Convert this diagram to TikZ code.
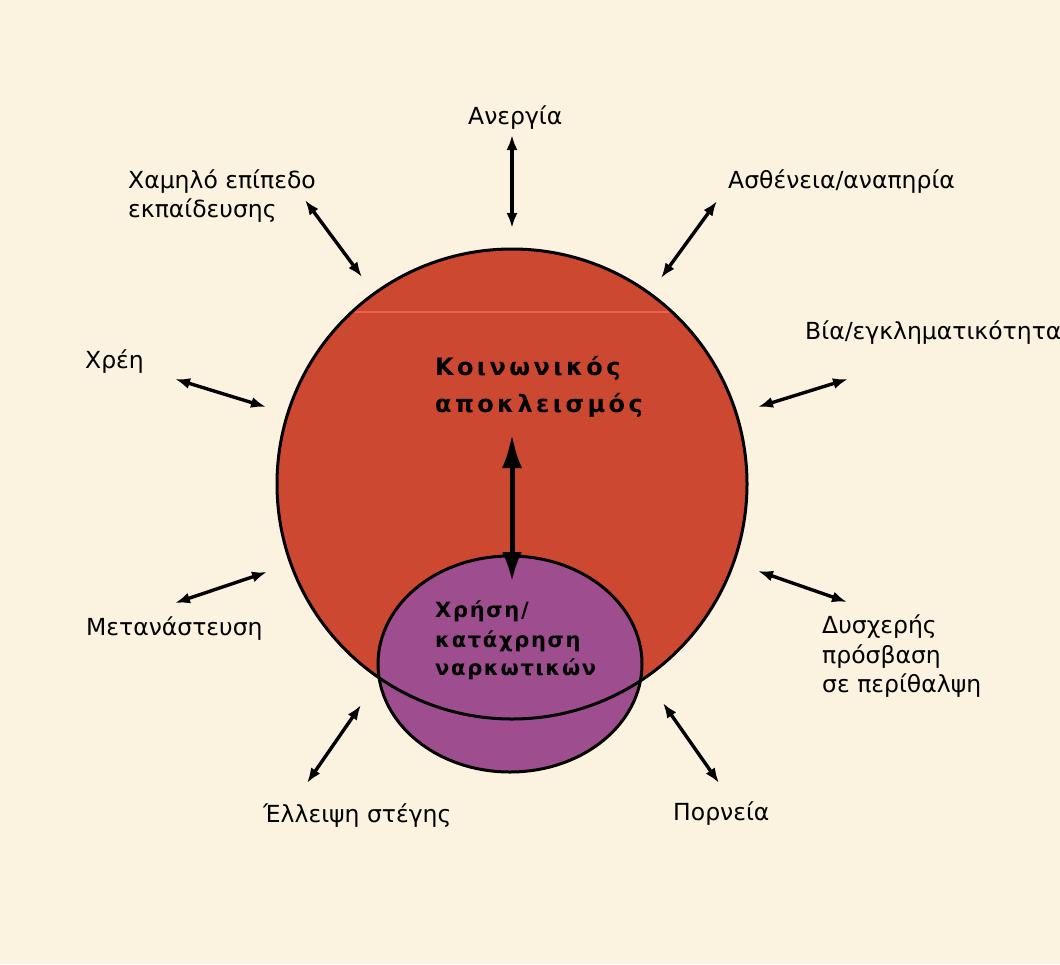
\documentclass[tikz,border=0pt]{standalone}
\usepackage{fontspec}
\setmainfont{DejaVu Sans}
\newfontfamily\titlefont[LetterSpace=14]{DejaVu Sans}
\newfontfamily\innerfont[LetterSpace=8]{DejaVu Sans}
\usetikzlibrary{arrows.meta}
\definecolor{bg}{RGB}{251,243,224}
\definecolor{redc}{RGB}{204,72,48}
\definecolor{redl}{RGB}{232,100,80}
\definecolor{purp}{RGB}{158,78,142}
\begin{document}
\begin{tikzpicture}[x=1pt,y=-1pt,
  lab/.style={anchor=base west, inner sep=0pt, font=\fontsize{23.5}{29}\selectfont},
  ttl/.style={anchor=base west, inner sep=0pt, font=\titlefont\bfseries\fontsize{24}{29}\selectfont},
  inn/.style={anchor=base west, inner sep=0pt, font=\innerfont\bfseries\fontsize{21}{29}\selectfont},
  arr/.style={line width=3.4pt, {Latex[length=15pt,width=11pt]}-{Latex[length=15pt,width=11pt]}},
  bigarr/.style={line width=5pt, {Latex[length=34pt,width=20pt]}-{Latex[length=30pt,width=20pt]}},
  outline/.style={line width=3pt, draw=black}
]
\useasboundingbox (0,0) rectangle (1060,964);
\fill[bg] (0,0) rectangle (1060,964);

% circles
\coordinate (rc) at (512,484);
\coordinate (pc) at (510,664);
\fill[redc] (rc) circle[radius=235];
\begin{scope}
  \clip (rc) circle[radius=235];
  \draw[redl, line width=1.5pt] (270,312) -- (760,312);
\end{scope}
\fill[purp] (pc) ellipse[x radius=132, y radius=108];
\draw[outline] (rc) circle[radius=235];
\draw[outline] (pc) ellipse[x radius=132, y radius=108];

% central texts
\node[ttl] (soc1) at (435,375) {Κοινωνικός};
\node[ttl] (soc2) at (435,412) {αποκλεισμός};
\node[inn] (drug1) at (435,617) {Χρήση/};
\node[inn] (drug2) at (435,647) {κατάχρηση};
\node[inn] (drug3) at (435,675) {ναρκωτικών};

\coordinate (c1) at (512,434);
\coordinate (c2) at (512,582);
\draw[bigarr] (c1) -- (c2);

% labels
\node[lab] (unemp) at (468,124) {Ανεργία};
\node[lab] (edu1) at (128,188) {Χαμηλό επίπεδο};
\node[lab] (edu2) at (128,217) {εκπαίδευσης};
\node[lab] (ill) at (728,188) {Ασθένεια/αναπηρία};
\node[lab] (viol) at (805,339) {Βία/εγκληματικότητα};
\node[lab] (debt) at (85,368) {Χρέη};
\node[lab] (migr) at (86,635) {Μετανάστευση};
\node[lab] (care1) at (822,633) {Δυσχερής};
\node[lab] (care2) at (822,663) {πρόσβαση};
\node[lab] (care3) at (822,692) {σε περίθαλψη};
\node[lab] (home) at (263,822) {Έλλειψη στέγης};
\node[lab] (prost) at (673,820) {Πορνεία};

% arrow ends
\coordinate (a1) at (512,135);   \coordinate (b1) at (512,228);
\coordinate (a2) at (305,200);   \coordinate (b2) at (362,277);
\coordinate (a3) at (717,201);   \coordinate (b3) at (661,278);
\coordinate (a4) at (848,379);   \coordinate (b4) at (758,407);
\coordinate (a5) at (175,379);   \coordinate (b5) at (266,407);
\coordinate (a6) at (175,603);   \coordinate (b6) at (267,572);
\coordinate (a7) at (307,783);   \coordinate (b7) at (361,705);
\coordinate (a8) at (847,602);   \coordinate (b8) at (758,571);
\coordinate (a9) at (719,783);   \coordinate (b9) at (663,703);

\foreach \i in {1,...,9} \draw[arr] (a\i) -- (b\i);
\end{tikzpicture}
\end{document}
